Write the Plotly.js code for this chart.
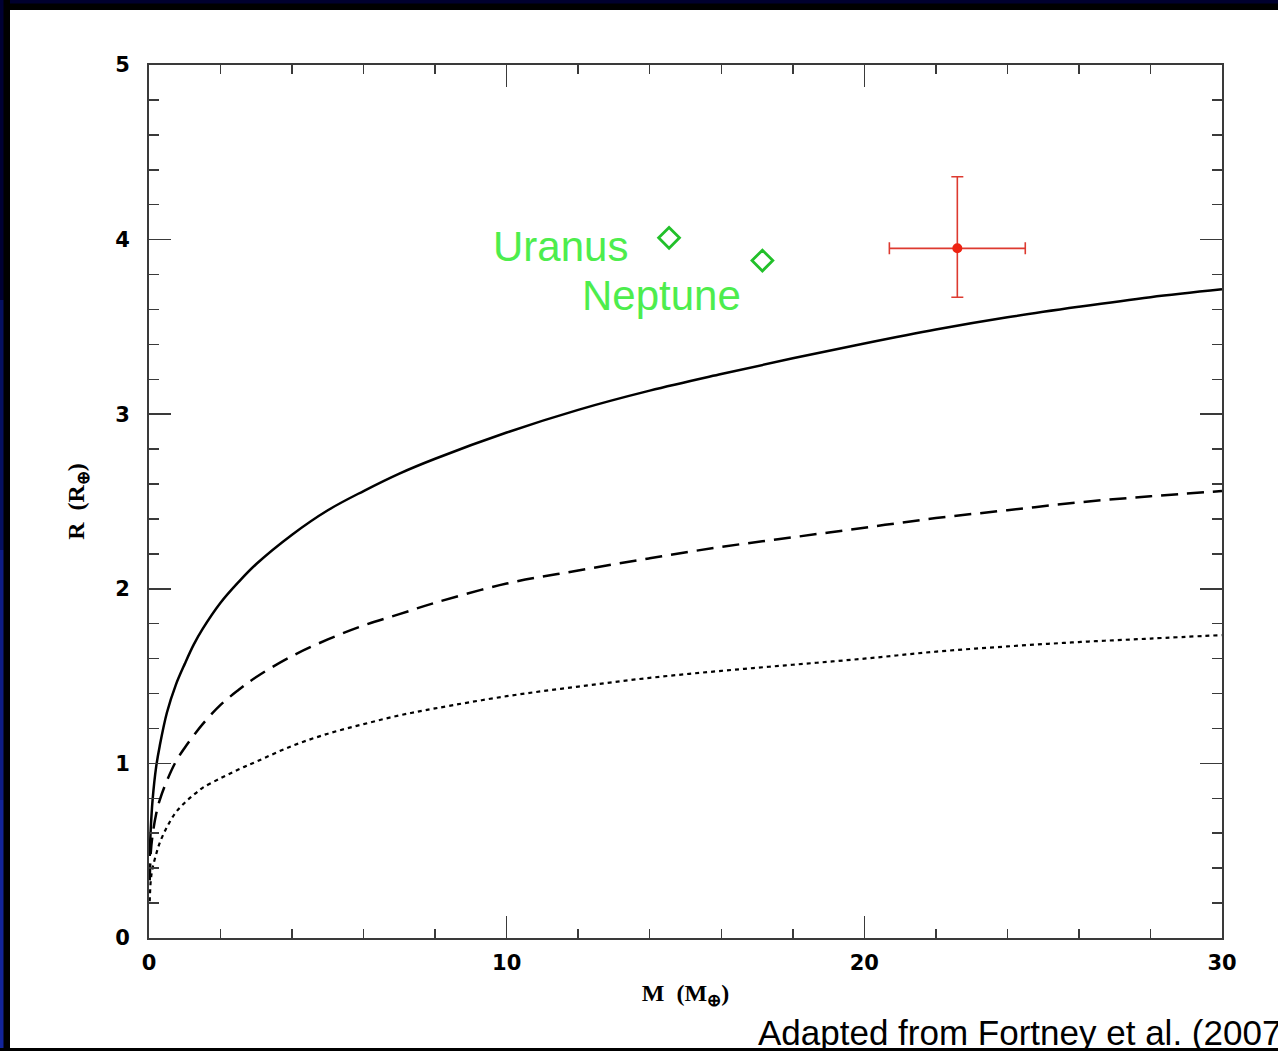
<!DOCTYPE html>
<html>
<head>
<meta charset="utf-8">
<script src="https://cdn.plot.ly/plotly-3.0.1.min.js"></script>
<style>
  html, body { margin: 0; padding: 0; background: #ffffff; overflow: hidden; }
  #chart { width: 1278px; height: 1051px; }
</style>
</head>
<body>
<div id="chart"></div>
<script>
// Planet mass (Earth masses) grid shared by the three model curves
const mass = [0.02, 0.05, 0.1, 0.2, 0.3, 0.5, 0.75, 1, 1.25, 1.5, 2, 2.5, 3, 4, 5, 6, 7, 8, 10, 12, 14, 16, 18, 20, 22, 24, 26, 28, 30];

// Model radii (Earth radii)
const radiusSolid  = [0.47, 0.63, 0.79, 0.98, 1.10, 1.29, 1.45, 1.57, 1.68, 1.77, 1.92, 2.038, 2.142, 2.31, 2.45, 2.56, 2.66, 2.745, 2.895, 3.025, 3.135, 3.23, 3.32, 3.405, 3.485, 3.555, 3.615, 3.67, 3.715];
const radiusDashed = [0.33, 0.49, 0.59, 0.71, 0.79, 0.90, 1.01, 1.09, 1.16, 1.225, 1.335, 1.42, 1.495, 1.615, 1.71, 1.79, 1.855, 1.92, 2.03, 2.105, 2.175, 2.24, 2.295, 2.35, 2.405, 2.45, 2.495, 2.53, 2.56];
const radiusDotted = [0.21, 0.33, 0.40, 0.48, 0.545, 0.635, 0.72, 0.775, 0.82, 0.86, 0.915, 0.965, 1.01, 1.10, 1.17, 1.225, 1.275, 1.315, 1.385, 1.44, 1.49, 1.53, 1.565, 1.60, 1.64, 1.67, 1.695, 1.715, 1.735];

// Solar-system ice giants
const giantNames  = ["Uranus", "Neptune"];
const giantMass   = [14.54, 17.15];
const giantRadius = [4.01, 3.88];

// Observed planet with uncertainties
const obsMass = [22.6];
const obsMassErr = [1.9];
const obsRadius = [3.95];
const obsRadiusErrPlus = [0.41];
const obsRadiusErrMinus = [0.28];

// Axis ticks
const xTickVals = [0, 10, 20, 30];
const yTickVals = [0, 1, 2, 3, 4, 5];

// Page geometry (pixels) for the plotting frame
const W = 1278, H = 1051;
const L = 149, R = 1222, T = 65, B = 938;
const px2x = p => (p - L) / (R - L);
const py2y = p => (B - p) / (B - T);

const curveLine = (dash, width) => ({ color: '#000000', width: width, dash: dash, shape: 'spline', smoothing: 1 });

const traces = [
  { x: mass, y: radiusSolid,  mode: 'lines', line: curveLine('solid', 2.5), hoverinfo: 'skip' },
  { x: mass, y: radiusDashed, mode: 'lines', line: curveLine('17px,9px', 2.5), hoverinfo: 'skip' },
  { x: mass, y: radiusDotted, mode: 'lines', line: curveLine('4px,4px', 2.2), hoverinfo: 'skip' },
  {
    x: giantMass, y: giantRadius, mode: 'markers', text: giantNames, hoverinfo: 'text',
    marker: { symbol: 'diamond-open', size: 16, color: '#22c02a', line: { width: 2.8, color: '#22c02a' } }
  },
  {
    x: obsMass, y: obsRadius, mode: 'markers', hoverinfo: 'x+y',
    marker: { symbol: 'circle', size: 10, color: '#ee2211' },
    error_x: { type: 'data', array: obsMassErr, color: '#dd3a30', thickness: 1.6, width: 6 },
    error_y: { type: 'data', symmetric: false, array: obsRadiusErrPlus, arrayminus: obsRadiusErrMinus, color: '#dd3a30', thickness: 1.6, width: 6 }
  }
];

const tickFont = { family: 'DejaVu Sans', size: 21, color: '#000000', weight: 'bold' };
const titleFont = { family: 'Liberation Serif', size: 24, color: '#000000', weight: 'bold' };
const frameLine = '#3a3a3a';

// Dark frame around the page
const frame = [
  { x0: -0.5, x1: 1.5, y0: py2y(10), y1: py2y(0), fill: '#000000' },
  { x0: -0.5, x1: 1.5, y0: py2y(3.5), y1: py2y(0), fill: '#00002e' },
  { x0: px2x(0), x1: px2x(10), y0: -0.5, y1: 1.5, fill: '#000000' },
  { x0: px2x(0), x1: px2x(3.5), y0: py2y(300), y1: 1.5, fill: '#000033' },
  { x0: px2x(0), x1: px2x(3.5), y0: py2y(550), y1: py2y(300), fill: '#061060' },
  { x0: px2x(0), x1: px2x(3.5), y0: py2y(800), y1: py2y(550), fill: '#0e1c84' },
  { x0: px2x(0), x1: px2x(3.5), y0: -0.5, y1: py2y(800), fill: '#13249a' },
  { x0: -0.5, x1: 1.5, y0: py2y(H), y1: py2y(H - 3), fill: '#000000' }
].map(s => ({
  type: 'rect', xref: 'paper', yref: 'paper', layer: 'above',
  x0: s.x0, x1: s.x1, y0: s.y0, y1: s.y1,
  fillcolor: s.fill, line: { width: 0 }
}));

const layout = {
  width: W, height: H,
  margin: { l: L, r: W - R, t: T, b: H - B, pad: 0 },
  paper_bgcolor: '#ffffff',
  plot_bgcolor: '#ffffff',
  showlegend: false,
  xaxis: {
    range: [0, 30], tickvals: xTickVals, ticktext: xTickVals.map(String),
    ticks: 'inside', ticklen: 22, tickwidth: 1.5, tickcolor: frameLine,
    minor: { dtick: 2, ticks: 'inside', ticklen: 9, tickwidth: 1.5, tickcolor: frameLine },
    showline: true, linecolor: frameLine, linewidth: 2, mirror: 'allticks',
    showgrid: false, zeroline: false, tickfont: tickFont, ticklabelstandoff: 5,
    title: { text: 'M  (M<sub>⊕</sub>)', font: titleFont, standoff: 10 }
  },
  yaxis: {
    range: [0, 5], tickvals: yTickVals, ticktext: yTickVals.map(String),
    ticks: 'inside', ticklen: 22, tickwidth: 1.5, tickcolor: frameLine,
    minor: { dtick: 0.2, ticks: 'inside', ticklen: 10, tickwidth: 1.5, tickcolor: frameLine },
    showline: true, linecolor: frameLine, linewidth: 2, mirror: 'allticks',
    showgrid: false, zeroline: false, tickfont: tickFont, ticklabelstandoff: 13,
    title: { text: 'R  (R<sub>⊕</sub>)', font: titleFont, standoff: 24 }
  },
  annotations: [
    { x: 13.45, y: 3.96, xref: 'x', yref: 'y', text: giantNames[0], showarrow: false,
      xanchor: 'right', yanchor: 'middle', font: { family: 'Liberation Sans', size: 42, color: '#4ded4d' } },
    { x: 16.6, y: 3.68, xref: 'x', yref: 'y', text: giantNames[1], showarrow: false,
      xanchor: 'right', yanchor: 'middle', font: { family: 'Liberation Sans', size: 42, color: '#4ded4d' } },
    { x: px2x(756), y: py2y(1032), xref: 'paper', yref: 'paper', text: 'Adapted from Fortney et al. (2007)',
      showarrow: false, xanchor: 'left', yanchor: 'middle',
      font: { family: 'Liberation Sans', size: 35, color: '#000000' } }
  ],
  shapes: frame
};

Plotly.newPlot('chart', traces, layout, { displayModeBar: false, staticPlot: true });
</script>
</body>
</html>
